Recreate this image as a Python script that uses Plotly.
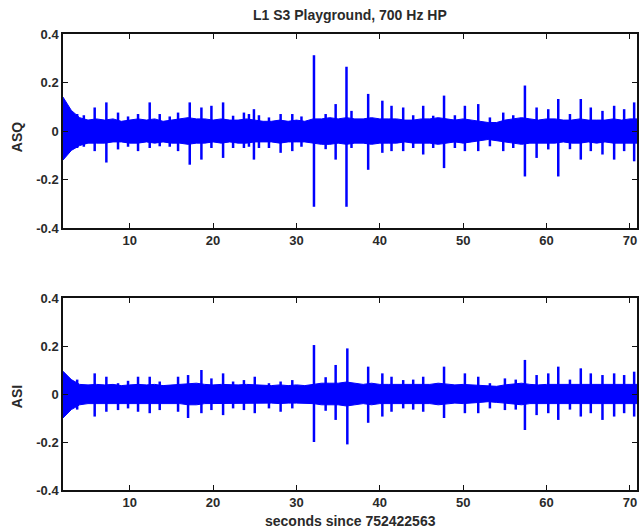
import plotly.graph_objects as go

# ---------------- data ----------------
TITLE = "L1 S3 Playground, 700 Hz HP"
XLABEL = "seconds since 752422563"
YLABELS = ["ASQ", "ASI"]
XTICKS = [10, 20, 30, 40, 50, 60, 70]
YTICKS = [-0.4, -0.2, 0, 0.2, 0.4]
YTICKTEXT = ["-0.4", "-0.2", "0", "0.2", "0.4"]

# envelope of the dense noise band, 1 s resolution
t_base = list(range(2, 72))
asq_upper = [0.14, 0.085, 0.055, 0.045, 0.05, 0.045, 0.05, 0.04, 0.045, 0.05,
             0.045, 0.05, 0.04, 0.045, 0.05, 0.055, 0.05, 0.05, 0.045, 0.05,
             0.045, 0.045, 0.05, 0.045, 0.04, 0.04, 0.045, 0.04, 0.045, 0.04,
             0.05, 0.05, 0.055, 0.05, 0.055, 0.05, 0.05, 0.055, 0.05, 0.05,
             0.05, 0.045, 0.045, 0.05, 0.05, 0.055, 0.05, 0.045, 0.05, 0.045,
             0.04, 0.035, 0.035, 0.045, 0.05, 0.055, 0.05, 0.045, 0.05, 0.05,
             0.045, 0.045, 0.05, 0.045, 0.045, 0.045, 0.05, 0.045, 0.05, 0.05]
asq_lower = [-0.12, -0.08, -0.06, -0.05, -0.05, -0.05, -0.045, -0.045, -0.05, -0.05,
             -0.045, -0.05, -0.045, -0.05, -0.05, -0.055, -0.05, -0.05, -0.045, -0.05,
             -0.045, -0.05, -0.05, -0.045, -0.045, -0.045, -0.05, -0.045, -0.045, -0.045,
             -0.05, -0.055, -0.055, -0.05, -0.055, -0.05, -0.05, -0.055, -0.05, -0.05,
             -0.05, -0.045, -0.05, -0.05, -0.05, -0.055, -0.05, -0.045, -0.05, -0.045,
             -0.04, -0.035, -0.04, -0.045, -0.05, -0.055, -0.05, -0.05, -0.05, -0.05,
             -0.045, -0.05, -0.05, -0.045, -0.05, -0.045, -0.05, -0.05, -0.05, -0.05]
asi_upper = [0.095, 0.06, 0.04, 0.038, 0.04, 0.038, 0.04, 0.035, 0.038, 0.04,
             0.038, 0.04, 0.035, 0.038, 0.04, 0.042, 0.045, 0.04, 0.038, 0.04,
             0.038, 0.038, 0.04, 0.038, 0.035, 0.035, 0.038, 0.035, 0.038, 0.035,
             0.04, 0.045, 0.045, 0.045, 0.05, 0.045, 0.04, 0.045, 0.04, 0.04,
             0.04, 0.038, 0.038, 0.04, 0.04, 0.045, 0.04, 0.038, 0.04, 0.038,
             0.035, 0.032, 0.032, 0.038, 0.04, 0.045, 0.04, 0.038, 0.04, 0.04,
             0.038, 0.038, 0.04, 0.038, 0.038, 0.038, 0.04, 0.038, 0.04, 0.04]
asi_lower = [-0.1, -0.065, -0.045, -0.04, -0.04, -0.04, -0.038, -0.038, -0.04, -0.04,
             -0.038, -0.04, -0.038, -0.04, -0.04, -0.045, -0.045, -0.04, -0.038, -0.04,
             -0.038, -0.04, -0.04, -0.038, -0.038, -0.038, -0.04, -0.038, -0.038, -0.038,
             -0.04, -0.045, -0.045, -0.045, -0.05, -0.045, -0.04, -0.045, -0.04, -0.04,
             -0.04, -0.038, -0.04, -0.04, -0.04, -0.045, -0.04, -0.038, -0.04, -0.038,
             -0.035, -0.032, -0.035, -0.038, -0.04, -0.045, -0.04, -0.04, -0.04, -0.04,
             -0.038, -0.04, -0.04, -0.038, -0.04, -0.038, -0.04, -0.04, -0.04, -0.04]

# individual bursts: time, peak, trough
asq_spike_t = [3.7, 4.5, 5.8, 7.2, 8.6, 9.8, 11.0, 12.4, 13.6, 14.8, 15.8, 17.2, 18.6, 19.8,
               21.2, 22.4, 23.7, 24.3, 24.9, 25.5, 26.7, 28.1, 29.5, 30.6, 32.1, 33.5,
               34.7, 36.0, 36.6, 38.6, 40.3, 41.4, 42.8, 44.0, 45.2, 46.4, 47.7, 49.0,
               50.2, 51.8, 53.2, 54.8, 56.0, 57.4, 58.8, 60.2, 61.4, 62.8, 64.1, 65.3,
               66.7, 68.1, 69.3, 70.5]
asq_spike_hi = [0.07, 0.065, 0.097, 0.118, 0.076, 0.06, 0.07, 0.118, 0.07, 0.06, 0.076,
                0.118, 0.097, 0.104, 0.118, 0.063, 0.076, 0.07, 0.09, 0.065, 0.056, 0.07,
                0.07, 0.06, 0.3125, 0.07, 0.111, 0.265, 0.083, 0.153, 0.125, 0.104, 0.097,
                0.065, 0.104, 0.063, 0.146, 0.065, 0.104, 0.111, 0.056, 0.076, 0.065,
                0.1875, 0.097, 0.09, 0.132, 0.07, 0.132, 0.097, 0.083, 0.104, 0.09, 0.118]
asq_spike_lo = [-0.07, -0.065, -0.083, -0.13, -0.076, -0.065, -0.083, -0.07, -0.063, -0.065,
                -0.083, -0.139, -0.118, -0.07, -0.111, -0.07, -0.07, -0.065, -0.118, -0.07,
                -0.07, -0.09, -0.083, -0.065, -0.3125, -0.075, -0.118, -0.3125, -0.07, -0.16,
                -0.09, -0.083, -0.083, -0.07, -0.097, -0.07, -0.153, -0.07, -0.083, -0.083,
                -0.063, -0.083, -0.07, -0.1875, -0.111, -0.076, -0.1875, -0.075, -0.118,
                -0.083, -0.097, -0.118, -0.083, -0.125]
asi_spike_t = [3.7, 5.8, 7.2, 8.6, 9.8, 11.0, 12.4, 13.6, 15.8, 17.0, 18.6, 19.8, 21.2,
               22.4, 23.7, 25.0, 26.7, 28.1, 29.5, 32.1, 33.5, 34.7, 36.1, 38.6, 40.3,
               41.4, 42.8, 44.0, 45.2, 47.7, 50.2, 51.8, 53.2, 55.0, 56.3, 57.4, 58.8,
               60.2, 61.4, 62.8, 64.1, 65.3, 66.7, 68.1, 69.3, 70.5]
asi_spike_hi = [0.06, 0.086, 0.072, 0.045, 0.055, 0.072, 0.072, 0.052, 0.072, 0.079, 0.1,
                0.065, 0.086, 0.052, 0.058, 0.072, 0.045, 0.052, 0.058, 0.204, 0.07,
                0.121, 0.19, 0.114, 0.086, 0.072, 0.058, 0.06, 0.072, 0.114, 0.086, 0.072,
                0.045, 0.065, 0.06, 0.142, 0.079, 0.086, 0.114, 0.06, 0.107, 0.086, 0.079,
                0.086, 0.079, 0.093]
asi_spike_lo = [-0.065, -0.094, -0.074, -0.067, -0.06, -0.074, -0.08, -0.067, -0.074, -0.1,
                -0.08, -0.067, -0.088, -0.06, -0.067, -0.08, -0.06, -0.074, -0.06, -0.2,
                -0.07, -0.108, -0.21, -0.12, -0.094, -0.074, -0.06, -0.065, -0.074, -0.1,
                -0.08, -0.08, -0.06, -0.067, -0.065, -0.15, -0.088, -0.08, -0.108, -0.065,
                -0.094, -0.08, -0.108, -0.094, -0.08, -0.094]

# ---------------- figure ----------------
W, H = 639, 530
ML, MR, MT, MB = 63, 0, 34, 40
BLUE = "#0000ff"
FONT = "Liberation Sans, Arial, Helvetica, sans-serif"
TXT = "#2a2a2a"

fig = go.Figure()


def add_series(row, upper, lower, st, shi, slo):
    xa = "x" if row == 1 else "x2"
    ya = "y" if row == 1 else "y2"
    fig.add_trace(go.Scatter(
        x=t_base + t_base[::-1], y=upper + lower[::-1], fill="toself",
        fillcolor=BLUE, line=dict(color=BLUE, width=1), mode="lines",
        xaxis=xa, yaxis=ya, hoverinfo="skip", showlegend=False))
    xs, ys = [], []
    for t, hi, lo in zip(st, shi, slo):
        xs += [t, t, None]
        ys += [lo, hi, None]
    fig.add_trace(go.Scatter(
        x=xs, y=ys, mode="lines", line=dict(color=BLUE, width=2.5),
        xaxis=xa, yaxis=ya, hoverinfo="skip", showlegend=False))


add_series(1, asq_upper, asq_lower, asq_spike_t, asq_spike_hi, asq_spike_lo)
add_series(2, asi_upper, asi_lower, asi_spike_t, asi_spike_hi, asi_spike_lo)

plot_h = H - MT - MB
def py(pix):
    return (H - MB - pix) / plot_h

ax_common = dict(
    showline=True, linecolor="#111", linewidth=1.5, mirror="ticks",
    ticks="inside", ticklen=5, tickcolor="#111", tickwidth=1.2,
    showgrid=False, zeroline=False,
    tickfont=dict(family=FONT, size=13, color=TXT, weight="bold"),
)
xrange = [2, 2 + (W - ML - MR) / 8.367]
fig.update_layout(
    width=W, height=H, margin=dict(l=ML, r=MR, t=MT, b=MB),
    paper_bgcolor="white", plot_bgcolor="white",
    xaxis=dict(domain=[0, 1], range=xrange, tickvals=XTICKS, anchor="y", **ax_common),
    yaxis=dict(domain=[py(228), 1], range=[-0.4, 0.4], tickvals=YTICKS,
               ticktext=YTICKTEXT, anchor="x", **ax_common),
    xaxis2=dict(domain=[0, 1], range=xrange, tickvals=XTICKS, anchor="y2", **ax_common),
    yaxis2=dict(domain=[0, py(298)], range=[-0.4, 0.4], tickvals=YTICKS,
                ticktext=YTICKTEXT, anchor="x2", **ax_common),
    showlegend=False,
)

fig.add_annotation(text=TITLE, xref="paper", yref="paper", x=0.5, y=py(15),
                   showarrow=False, xanchor="center", yanchor="middle",
                   font=dict(family=FONT, size=14, color=TXT, weight="bold"))
fig.add_annotation(text=XLABEL, xref="paper", yref="paper", x=0.5, y=py(521),
                   showarrow=False, xanchor="center", yanchor="middle",
                   font=dict(family=FONT, size=14, color=TXT, weight="bold"))
for lab, ypix in zip(YLABELS, [137, 397]):
    fig.add_annotation(text=lab, xref="paper", yref="paper",
                       x=(17 - ML) / (W - ML - MR), y=py(ypix), textangle=-90,
                       showarrow=False, xanchor="center", yanchor="middle",
                       font=dict(family=FONT, size=14, color=TXT, weight="bold"))

fig.write_html("out.html")
